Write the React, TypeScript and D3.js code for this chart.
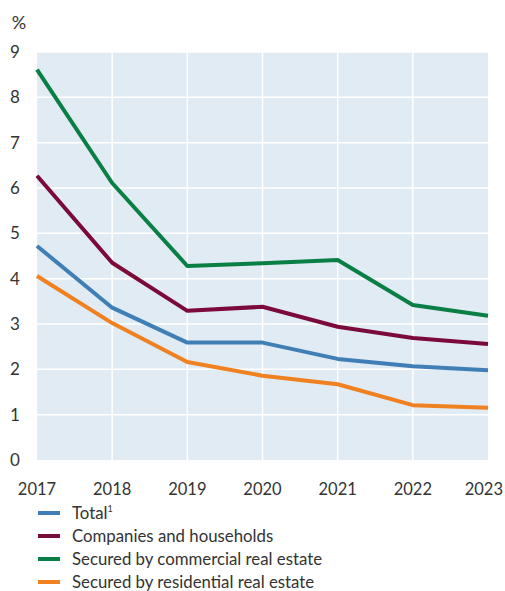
import React from "react";
import * as d3 from "d3";

const years = [2017, 2018, 2019, 2020, 2021, 2022, 2023];
const totalValues = [4.72, 3.36, 2.59, 2.59, 2.23, 2.07, 1.98];
const companiesValues = [6.27, 4.35, 3.29, 3.38, 2.94, 2.69, 2.56];
const commercialValues = [8.61, 6.11, 4.28, 4.34, 4.41, 3.42, 3.18];
const residentialValues = [4.06, 3.02, 2.16, 1.86, 1.67, 1.21, 1.15];
const yTicks = [0, 1, 2, 3, 4, 5, 6, 7, 8, 9];
const seriesNames = ["Total", "Companies and households", "Secured by commercial real estate", "Secured by residential real estate"];
const seriesColors = ["#3f7fb6", "#7b0a3a", "#0a7f45", "#f08120"];

export default function App() {
  const W = 505, H = 591;
  const left = 37, right = 488, top = 52, bottom = 460;
  const x = d3.scaleLinear().domain([2017, 2023]).range([left, right]);
  const y = d3.scaleLinear().domain([0, 9]).range([bottom, top]);
  const line = d3.line<number>().x((_, i) => x(years[i])).y((d) => y(d));
  const series = [totalValues, companiesValues, commercialValues, residentialValues];
  const font = "Lato, 'Open Sans', sans-serif";
  const drawOrder = [3, 0, 1, 2];
  return (
    <svg width={W} height={H} style={{ position: "absolute", left: 0, top: 0 }} fontFamily={font}>
      <rect x={left} y={top} width={right - left} height={bottom - top} fill="#e1ebf4" />
      {yTicks.slice(1).map((t) => (
        <line key={"h" + t} x1={left} x2={right} y1={y(t)} y2={y(t)} stroke="#fff" strokeWidth={1.5} />
      ))}
      {years.slice(1, -1).map((yr) => (
        <line key={"v" + yr} x1={x(yr)} x2={x(yr)} y1={top} y2={bottom} stroke="#fff" strokeWidth={1.5} />
      ))}
      {yTicks.map((t) => (
        <text key={"yt" + t} x={15} y={y(t) + 6} textAnchor="middle" fontSize={17} fill="#333">{t}</text>
      ))}
      <text x={19} y={29} textAnchor="middle" fontSize={18} fill="#333">%</text>
      {years.map((yr, i) => {
        const last = i === years.length - 1;
        return (
          <text key={"xt" + yr} x={last ? W - 2 : x(yr)} y={495} textAnchor={last ? "end" : "middle"} fontSize={16.5} fill="#333">{yr}</text>
        );
      })}
      {drawOrder.map((i) => (
        <path key={"s" + i} d={line(series[i]) || ""} fill="none" stroke={seriesColors[i]} strokeWidth={4} strokeLinejoin="round" />
      ))}
      {seriesNames.map((n, i) => (
        <g key={"lg" + i} transform={`translate(0, ${513 + i * 23})`}>
          <line x1={38} x2={60} y1={0} y2={0} stroke={seriesColors[i]} strokeWidth={4} />
          <text x={72} y={6} fontSize={16.8} fill="#333">
            {n}
            {i === 0 ? <tspan fontSize={9} dy={-7}>1</tspan> : null}
          </text>
        </g>
      ))}
    </svg>
  );
}
